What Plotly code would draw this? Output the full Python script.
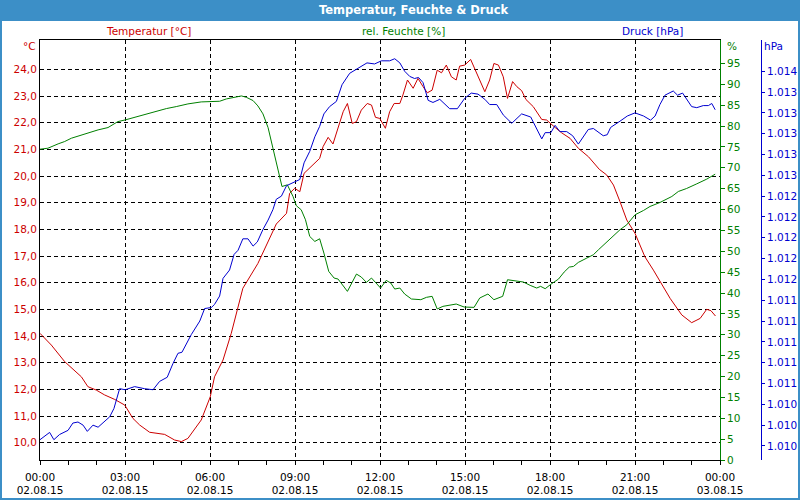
import pandas as pd
import plotly.graph_objects as go

# ---------------- data (hours after 02.08.15 00:00) ----------------
temp_hours = [0.0, 0.4, 0.87, 1.46, 1.69, 1.99, 2.28, 2.64, 2.99, 3.28, 3.52, 3.87, 4.4, 4.75, 4.99,
              5.22, 5.69, 6.01, 6.16, 6.46, 6.75, 6.99, 7.16, 7.69, 8.05, 8.34, 8.7, 8.81, 8.99, 9.17,
              9.32, 9.52, 9.75, 9.87, 9.99, 10.17, 10.34, 10.52, 10.7, 10.85, 11.02, 11.17, 11.34,
              11.55, 11.7, 11.84, 11.99, 12.19, 12.34, 12.5, 12.7, 12.81, 12.97, 13.17, 13.34, 13.52,
              13.67, 13.84, 14.02, 14.17, 14.34, 14.52, 14.69, 14.81, 14.99, 15.2, 15.46, 15.7, 15.87,
              16.02, 16.18, 16.35, 16.5, 16.68, 16.83, 17.0, 17.15, 17.41, 17.71, 17.88, 18.18, 18.41,
              18.71, 19.0, 19.36, 19.74, 20.0, 20.24, 20.47, 20.71, 21.0, 21.35, 21.65, 21.94, 22.24,
              22.65, 23.0, 23.3, 23.53, 23.68, 23.84]
temperature = [14.1, 13.66, 13.04, 12.47, 12.1, 11.97, 11.79, 11.62, 11.41, 10.91, 10.66, 10.39, 10.31,
               10.1, 10.04, 10.16, 10.85, 11.72, 12.47, 13.1, 14.1, 15.1, 15.79, 16.72, 17.55, 18.2,
               18.6, 19.35, 19.54, 19.41, 20.1, 20.29, 20.54, 20.66, 21.1, 21.45, 21.2, 21.85, 22.41,
               22.72, 21.97, 22.04, 22.47, 22.72, 22.66, 22.2, 22.16, 21.79, 22.41, 22.72, 22.72, 23.04,
               23.6, 23.29, 23.66, 23.35, 23.12, 23.22, 23.97, 23.87, 24.16, 23.72, 23.6, 24.12, 24.16,
               24.37, 23.72, 23.16, 23.6, 24.22, 24.16, 23.72, 22.91, 23.54, 23.35, 23.2, 22.87, 22.6,
               22.12, 22.1, 21.82, 21.62, 21.41, 21.04, 20.72, 20.25, 20.04, 19.66, 19.04, 18.35, 17.85,
               16.97, 16.47, 15.97, 15.41, 14.79, 14.5, 14.66, 15.0, 14.95, 14.75]

hum_hours = [0.0, 0.28, 0.64, 0.87, 1.11, 1.46, 1.69, 2.05, 2.4, 2.75, 3.01, 3.34, 3.69, 4.05, 4.46,
             4.81, 5.22, 5.69, 6.01, 6.34, 6.58, 6.87, 7.11, 7.28, 7.52, 7.69, 7.87, 8.05, 8.22, 8.38,
             8.54, 8.73, 8.93, 9.05, 9.22, 9.37, 9.52, 9.7, 9.87, 10.02, 10.19, 10.38, 10.52, 10.85,
             11.17, 11.34, 11.52, 11.7, 11.87, 12.02, 12.22, 12.38, 12.52, 12.7, 12.87, 13.11, 13.44,
             13.64, 13.84, 14.02, 14.22, 14.46, 14.69, 14.97, 15.32, 15.52, 15.81, 16.02, 16.33, 16.5,
             16.83, 17.06, 17.3, 17.53, 17.67, 17.83, 18.06, 18.3, 18.5, 18.68, 18.83, 19.0, 19.3,
             19.53, 19.71, 20.0, 20.24, 20.47, 20.71, 21.0, 21.3, 21.53, 21.88, 22.3, 22.53, 22.82,
             23.18, 23.53, 23.83]
humidity = [74.44, 74.68, 75.72, 76.28, 77.08, 77.87, 78.43, 79.07, 79.63, 81.06, 81.46, 82.1, 82.66,
            83.45, 84.17, 84.65, 85.29, 85.77, 85.93, 85.93, 86.49, 86.88, 87.2, 86.88, 86.09, 84.81,
            82.9, 79.6, 74.7, 70.3, 65.51, 65.91, 63.12, 60.89, 59.93, 57.54, 53.55, 52.35, 52.99,
            49.56, 45.18, 43.58, 43.34, 40.39, 44.54, 43.82, 42.55, 43.58, 42.39, 41.19, 43.02, 42.39,
            40.95, 41.19, 39.76, 38.56, 38.4, 38.96, 39.2, 36.17, 36.8, 37.04, 37.36, 36.64, 36.56,
            38.8, 39.76, 38.4, 39.2, 43.18, 42.78, 42.63, 41.83, 41.19, 41.59, 41.03, 42.23, 43.34,
            45.02, 46.21, 46.37, 47.33, 48.37, 49.16, 50.36, 52.11, 53.71, 55.15, 56.34, 58.73, 59.77,
            60.73, 61.68, 63.12, 64.32, 65.03, 66.15, 67.27, 68.46]

press_hours = [0.0, 0.34, 0.49, 0.69, 0.99, 1.16, 1.34, 1.52, 1.67, 1.87, 2.05, 2.28, 2.46, 2.61, 2.81,
               3.01, 3.34, 3.69, 3.99, 4.22, 4.49, 4.69, 4.87, 5.01, 5.34, 5.64, 5.81, 6.05, 6.16, 6.34,
               6.46, 6.69, 6.85, 6.99, 7.16, 7.34, 7.52, 7.67, 7.87, 8.05, 8.22, 8.34, 8.52, 8.7, 8.87,
               9.17, 9.32, 9.52, 9.7, 9.87, 10.02, 10.22, 10.46, 10.66, 10.93, 11.22, 11.54, 11.81,
               12.05, 12.34, 12.52, 12.7, 12.87, 13.05, 13.22, 13.36, 13.52, 13.7, 13.87, 14.11, 14.46,
               14.73, 14.99, 15.22, 15.46, 15.7, 15.87, 16.12, 16.35, 16.65, 17.0, 17.32, 17.53, 17.71,
               17.83, 18.03, 18.18, 18.35, 18.59, 18.8, 19.0, 19.18, 19.35, 19.53, 19.71, 19.88, 20.02,
               20.14, 20.47, 20.73, 21.0, 21.3, 21.55, 21.71, 21.88, 22.06, 22.35, 22.5, 22.68, 22.82,
               23.0, 23.18, 23.41, 23.59, 23.71, 23.83]
pressure = [1010.06, 1010.13, 1010.06, 1010.11, 1010.15, 1010.22, 1010.23, 1010.2, 1010.14, 1010.2,
            1010.18, 1010.24, 1010.28, 1010.36, 1010.55, 1010.54, 1010.57, 1010.55, 1010.54, 1010.62,
            1010.66, 1010.79, 1010.89, 1010.9, 1011.07, 1011.2, 1011.32, 1011.33, 1011.36, 1011.44,
            1011.61, 1011.69, 1011.84, 1011.88, 1011.99, 1011.99, 1011.92, 1011.96, 1012.08, 1012.17,
            1012.27, 1012.37, 1012.4, 1012.5, 1012.52, 1012.56, 1012.72, 1012.83, 1012.97, 1013.07,
            1013.19, 1013.26, 1013.31, 1013.47, 1013.58, 1013.63, 1013.68, 1013.67, 1013.7, 1013.7,
            1013.72, 1013.68, 1013.6, 1013.55, 1013.53, 1013.54, 1013.49, 1013.32, 1013.3, 1013.33,
            1013.24, 1013.24, 1013.34, 1013.39, 1013.38, 1013.33, 1013.28, 1013.28, 1013.18, 1013.1,
            1013.19, 1013.16, 1013.05, 1012.95, 1013.01, 1013.01, 1013.08, 1013.02, 1013.02, 1012.98,
            1012.9, 1012.97, 1013.04, 1013.05, 1013.01, 1012.98, 1012.99, 1013.06, 1013.12, 1013.17,
            1013.2, 1013.17, 1013.13, 1013.17, 1013.28, 1013.37, 1013.41, 1013.37, 1013.39, 1013.33,
            1013.26, 1013.25, 1013.27, 1013.27, 1013.29, 1013.23]

temperature_ticks = list(range(10, 25))
humidity_ticks = list(range(0, 100, 5))
pressure_ticks = [1010.0 + 0.2 * i for i in range(19)]

title_text = "Temperatur, Feuchte & Druck"
label_temp = "Temperatur [°C]"
label_hum = "rel. Feuchte [%]"
label_press = "Druck [hPa]"

# ---------------- styling ----------------
RED = "#cc0000"
GREEN = "#008000"
BLUE = "#0000d0"
FRAME = "#3c8fc7"
FONT = "DejaVu Sans"
FS = 10.5
DASH = "4px,3px"

base = pd.Timestamp("2015-08-02 00:00")
to_time = lambda hrs: base + pd.to_timedelta(hrs, unit="h")

W, H = 800, 500
ML, MR, MT, MB = 40, 10, 40, 40
PW = W - ML - MR   # paper width in px
PH = H - MT - MB
PLOT_RIGHT = 720


def px(x):
    return (x - ML) / PW


def py(y):
    return (H - MB - y) / PH


fig = go.Figure()
fig.add_trace(go.Scatter(x=to_time(hum_hours), y=humidity, yaxis="y2", mode="lines",
                         line=dict(color=GREEN, width=1), name=label_hum))
fig.add_trace(go.Scatter(x=to_time(press_hours), y=pressure, yaxis="y3", mode="lines",
                         line=dict(color=BLUE, width=1), name=label_press))
fig.add_trace(go.Scatter(x=to_time(temp_hours), y=temperature, yaxis="y", mode="lines",
                         line=dict(color=RED, width=1), name=label_temp))

fig.update_layout(
    width=W, height=H,
    margin=dict(l=ML, r=MR, t=MT, b=MB, autoexpand=False),
    paper_bgcolor=FRAME,
    plot_bgcolor="white",
    separators=",.",
    showlegend=False,
    font=dict(family=FONT, size=FS, color="black"),
    xaxis=dict(
        domain=[0, px(PLOT_RIGHT)],
        type="date",
        automargin=False,
        range=[base, base + pd.Timedelta(hours=24)],
        dtick=3 * 3600000,
        tick0=base,
        tickformat="%H:%M<br>%d.%m.%y",
        ticks="outside", ticklen=4, tickcolor="black",
        ticklabelstandoff=3,
        showline=True, linecolor="black", linewidth=1, mirror=True,
        showgrid=True, gridcolor="black", griddash=DASH, gridwidth=1,
        minor=dict(dtick=3600000, ticks="outside", ticklen=4, tickcolor="black", showgrid=False),
        zeroline=False,
        tickfont=dict(color="black", size=FS),
    ),
    yaxis=dict(
        range=[9.35, 25.1],
        automargin=False,
        tickvals=temperature_ticks, tickformat=".1f",
        ticks="", showline=True, linecolor="black", linewidth=1,
        showgrid=True, gridcolor="black", griddash=DASH, gridwidth=1,
        zeroline=False,
        tickfont=dict(color=RED, size=FS),
    ),
    yaxis2=dict(
        overlaying="y", side="right", anchor="x",
        automargin=False,
        range=[0, 100.6], tickvals=humidity_ticks,
        ticks="outside", ticklen=4, tickcolor=GREEN,
        showline=True, linecolor=GREEN, linewidth=1,
        showgrid=False, zeroline=False,
        tickfont=dict(color=GREEN, size=FS),
    ),
    yaxis3=dict(
        overlaying="y", side="right", anchor="free", position=px(761),
        automargin=False,
        range=[1009.865, 1013.9], tickvals=pressure_ticks, tickformat=",.0f",
        ticks="outside", ticklen=3, tickcolor=BLUE,
        showline=True, linecolor=BLUE, linewidth=1,
        showgrid=False, zeroline=False,
        tickfont=dict(color=BLUE, size=FS),
    ),
    shapes=[
        dict(type="rect", xref="paper", yref="paper", layer="below",
             x0=px(2), x1=px(798), y0=py(498), y1=py(21),
             fillcolor="white", line=dict(width=0)),
    ],
    annotations=[
        dict(text="<b>" + title_text + "</b>", x=px(414), y=py(10), xref="paper", yref="paper",
             xanchor="center", yanchor="middle", showarrow=False,
             font=dict(color="white", size=11.5, family=FONT)),
        dict(text=label_temp, x=px(148), y=py(31), xref="paper", yref="paper",
             xanchor="center", yanchor="middle", showarrow=False, font=dict(color=RED, size=FS)),
        dict(text=label_hum, x=px(403), y=py(31), xref="paper", yref="paper",
             xanchor="center", yanchor="middle", showarrow=False, font=dict(color=GREEN, size=FS)),
        dict(text=label_press, x=px(652), y=py(31), xref="paper", yref="paper",
             xanchor="center", yanchor="middle", showarrow=False, font=dict(color=BLUE, size=FS)),
        dict(text="°C", x=px(38), y=py(46), xref="paper", yref="paper",
             xanchor="right", yanchor="middle", showarrow=False, font=dict(color=RED, size=FS)),
        dict(text="%", x=px(725), y=py(46), xref="paper", yref="paper",
             xanchor="left", yanchor="middle", showarrow=False, font=dict(color=GREEN, size=FS)),
        dict(text="hPa", x=px(762), y=py(46), xref="paper", yref="paper",
             xanchor="left", yanchor="middle", showarrow=False, font=dict(color=BLUE, size=FS)),
    ],
)

fig.write_html("out.html")
